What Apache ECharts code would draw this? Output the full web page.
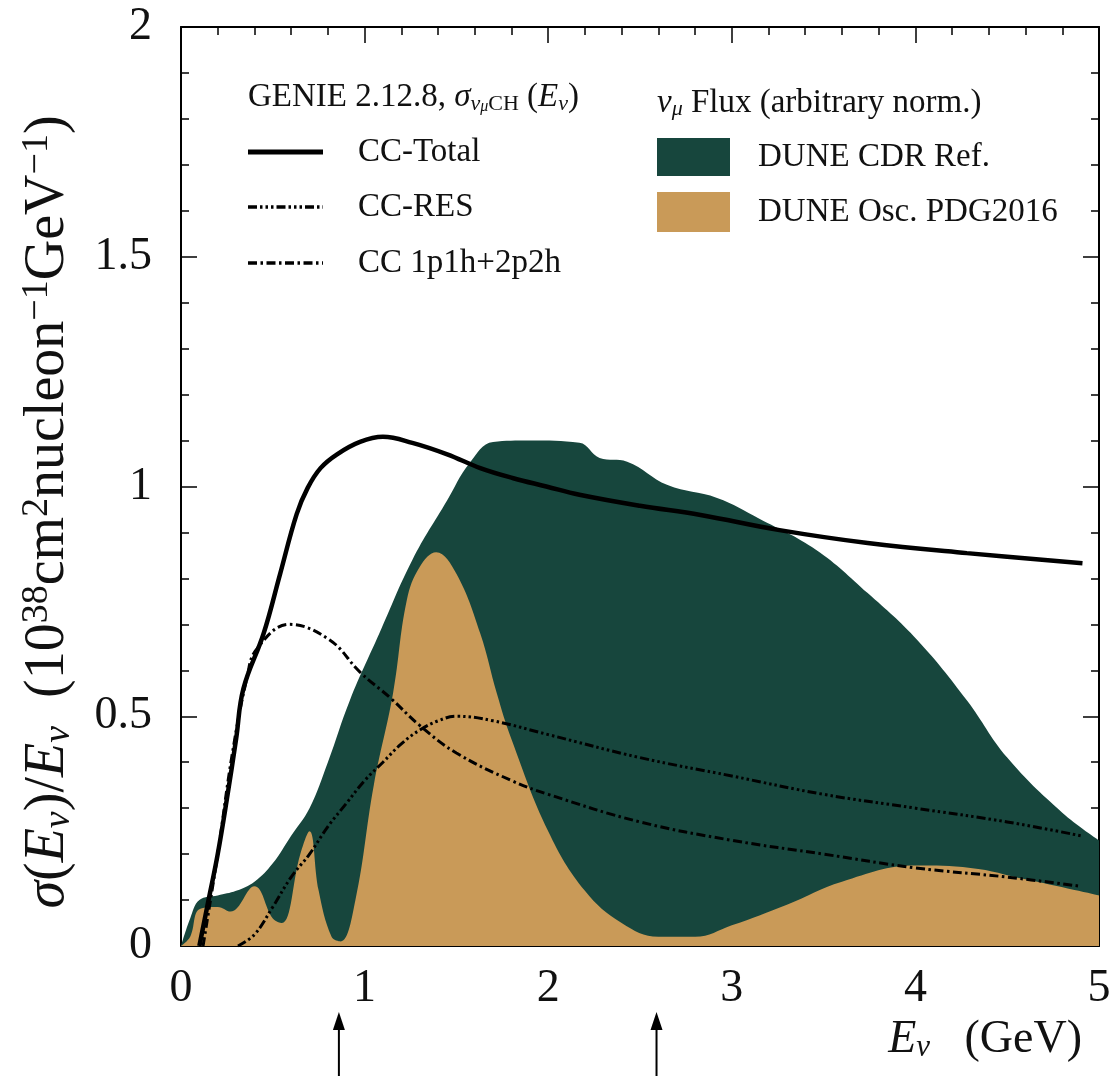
<!DOCTYPE html>
<html>
<head>
<meta charset="utf-8">
<script src="https://cdn.jsdelivr.net/npm/echarts@6/dist/echarts.min.js"></script>
<style>
  html, body { margin: 0; padding: 0; background: #fff; }
  #chart { width: 1114px; height: 1076px; }
</style>
</head>
<body>
<div id="chart"></div>
<script>
// energy grids (GeV) and sigma/E values
const fluxRefE = [0, 0.05, 0.1, 0.2, 0.3, 0.4, 0.5, 0.6, 0.7, 0.8, 0.92, 1.08, 1.26, 1.45, 1.57, 1.7, 1.9, 2.17, 2.28, 2.43, 2.65, 2.92, 3.15, 3.46, 3.74, 4.01, 4.28, 4.5, 4.8, 5.0];
const fluxRefY = [0, 0.06, 0.1, 0.11, 0.12, 0.14, 0.18, 0.24, 0.3, 0.4, 0.535, 0.68, 0.84, 0.97, 1.05, 1.097, 1.1, 1.095, 1.062, 1.054, 1.003, 0.975, 0.93, 0.862, 0.768, 0.666, 0.535, 0.41, 0.29, 0.23];

const fluxOscE = [0, 0.05, 0.1, 0.2, 0.27, 0.4, 0.5, 0.55, 0.65, 0.7, 0.75, 0.82, 0.87, 0.95, 1.05, 1.155, 1.23, 1.3, 1.39, 1.5, 1.63, 1.72, 1.8, 2.0, 2.2, 2.4, 2.6, 2.8, 3.0, 3.3, 3.6, 4.0, 4.3, 4.6, 5.0];
const fluxOscY = [0, 0.02, 0.08, 0.085, 0.075, 0.13, 0.06, 0.05, 0.2, 0.25, 0.12, 0.02, 0.01, 0.1, 0.35, 0.55, 0.753, 0.825, 0.857, 0.81, 0.68, 0.55, 0.45, 0.25, 0.12, 0.05, 0.02, 0.02, 0.045, 0.09, 0.14, 0.175, 0.17, 0.145, 0.11];

const ccTotalE = [0.1, 0.15, 0.2, 0.25, 0.3, 0.34, 0.45, 0.54, 0.63, 0.69, 0.76, 0.85, 0.975, 1.1, 1.26, 1.45, 1.63, 1.81, 1.99, 2.17, 2.5, 2.83, 3.26, 3.74, 4.28, 4.91];
const ccTotalY = [0, 0.1, 0.2, 0.32, 0.45, 0.56, 0.68, 0.81, 0.94, 0.997, 1.04, 1.07, 1.097, 1.108, 1.095, 1.07, 1.04, 1.018, 1.0, 0.982, 0.958, 0.938, 0.905, 0.877, 0.855, 0.833];

const ccResE = [0.31, 0.4, 0.5, 0.6, 0.7, 0.8, 0.9, 1.0, 1.1, 1.2, 1.3, 1.4, 1.5, 1.7, 2.0, 2.5, 3.0, 3.5, 4.0, 4.5, 4.9];
const ccResY = [0, 0.025, 0.085, 0.15, 0.2, 0.26, 0.31, 0.36, 0.4, 0.44, 0.47, 0.49, 0.5, 0.49, 0.46, 0.41, 0.37, 0.33, 0.3, 0.27, 0.24];

const ccQeE = [0.12, 0.2, 0.28, 0.36, 0.41, 0.59, 0.81, 0.975, 1.14, 1.3, 1.5, 1.8, 2.0, 2.5, 3.0, 3.5, 4.0, 4.5, 4.9];
const ccQeY = [0, 0.2, 0.42, 0.585, 0.645, 0.7, 0.666, 0.596, 0.54, 0.48, 0.42, 0.36, 0.33, 0.27, 0.23, 0.2, 0.17, 0.15, 0.13];

const arrowE = [0.86, 2.59];

const zip = (xs, ys) => xs.map((x, i) => [x, ys[i]]);
const serif = '"Liberation Serif", "DejaVu Serif", serif';
const green = '#17463d';
const tan = '#c99a58';

const chart = echarts.init(document.getElementById('chart'));

const baseAxis = {
  min: 0,
  axisLine: { show: true, onZero: false, lineStyle: { color: '#000', width: 2 } },
  axisTick: { show: true, inside: true, length: 16, lineStyle: { color: '#000', width: 1.5 } },
  minorTick: { show: true, splitNumber: 5, length: 8, lineStyle: { color: '#000', width: 1.5 } },
  splitLine: { show: false },
  minorSplitLine: { show: false },
};

function fill(name, data, color) {
  return {
    name, type: 'line', data, smooth: 0.4, symbol: 'none', silent: true,
    lineStyle: { width: 0, color }, itemStyle: { color },
    areaStyle: { color, opacity: 1 },
  };
}
function curve(name, data, width, dash) {
  return {
    name, type: 'line', data, smooth: 0.4, symbol: 'none', silent: true,
    lineStyle: { width, color: '#000', type: dash || 'solid', cap: 'butt' },
    itemStyle: { color: '#000' },
  };
}

chart.setOption({
  animation: false,
  grid: { left: 181, right: 15, top: 27, bottom: 130 },
  xAxis: [
    Object.assign({}, baseAxis, {
      type: 'value', max: 5, interval: 1, position: 'bottom',
      axisLabel: { show: true, color: '#111', fontFamily: serif, fontSize: 46, margin: 20 },
    }),
    Object.assign({}, baseAxis, {
      type: 'value', max: 5, interval: 1, position: 'top',
      axisLabel: { show: false },
    }),
  ],
  yAxis: [
    Object.assign({}, baseAxis, {
      type: 'value', max: 2, interval: 0.5, position: 'left',
      axisLabel: { show: true, color: '#111', fontFamily: serif, fontSize: 46, margin: 29 },
    }),
    Object.assign({}, baseAxis, {
      type: 'value', max: 2, interval: 0.5, position: 'right',
      axisLabel: { show: false },
    }),
  ],
  series: [
    fill('DUNE CDR Ref.', zip(fluxRefE, fluxRefY), green),
    fill('DUNE Osc. PDG2016', zip(fluxOscE, fluxOscY), tan),
    curve('CC-RES', zip(ccResE, ccResY), 3, [9, 3, 2.5, 3, 2.5, 3, 2.5, 3]),
    curve('CC 1p1h+2p2h', zip(ccQeE, ccQeY), 3, [9, 3.5, 2.5, 3.5]),
    curve('CC-Total', zip(ccTotalE, ccTotalY), 4.5),
  ],
});

// legend, axis titles and arrows as graphic text placed around the grid
const lgSize = 33;
function legendLine(y, dash, width) {
  return {
    type: 'line', shape: { x1: 248, y1: y, x2: 323, y2: y },
    style: { stroke: '#000', lineWidth: width, lineDash: dash },
  };
}
function text(x, y, str, size) {
  return {
    type: 'text', x, y,
    style: { text: str, font: size + 'px ' + serif, fill: '#111', verticalAlign: 'middle' },
  };
}

const graphics = [
  {
    type: 'text', x: 248, y: 97,
    style: {
      text: '{t|GENIE 2.12.8, }{it|σ}{sub|ν}{subsub|μ}{subr|CH}{t| (}{it|E}{sub|ν}{t|)}',
      verticalAlign: 'middle',
      rich: {
        t: { font: lgSize + 'px ' + serif, fill: '#111' },
        it: { font: 'italic ' + lgSize + 'px ' + serif, fill: '#111' },
        sub: { font: 'italic 22px ' + serif, fill: '#111', verticalAlign: 'bottom', padding: [12, 0, 0, 0] },
        subr: { font: '22px ' + serif, fill: '#111', verticalAlign: 'bottom', padding: [12, 0, 0, 0] },
        subsub: { font: 'italic 16px ' + serif, fill: '#111', verticalAlign: 'bottom', padding: [20, 0, 0, 0] },
      },
    },
  },
  legendLine(152, null, 5),
  legendLine(207, [9, 3, 2.5, 3, 2.5, 3, 2.5, 3], 3.5),
  legendLine(263, [9, 3.5, 2.5, 3.5], 3.5),
  text(358, 152, 'CC-Total', lgSize),
  text(358, 207, 'CC-RES', lgSize),
  text(358, 263, 'CC 1p1h+2p2h', lgSize),
  {
    type: 'text', x: 657, y: 103,
    style: {
      text: '{it|ν}{sub|μ}{t| Flux (arbitrary norm.)}',
      verticalAlign: 'middle',
      rich: {
        t: { font: lgSize + 'px ' + serif, fill: '#111' },
        it: { font: 'italic ' + lgSize + 'px ' + serif, fill: '#111' },
        sub: { font: 'italic 22px ' + serif, fill: '#111', verticalAlign: 'bottom', padding: [12, 0, 0, 0] },
      },
    },
  },
  { type: 'rect', shape: { x: 657, y: 138, width: 73, height: 38 }, style: { fill: green } },
  { type: 'rect', shape: { x: 657, y: 192, width: 73, height: 40 }, style: { fill: tan } },
  text(758, 157, 'DUNE CDR Ref.', lgSize),
  text(758, 212, 'DUNE Osc. PDG2016', lgSize),
  {
    type: 'text', x: 1082, y: 1040,
    style: {
      text: '{it|E}{sub|ν}{t|   (GeV)}',
      align: 'right', verticalAlign: 'middle',
      rich: {
        t: { font: '46px ' + serif, fill: '#111' },
        it: { font: 'italic 46px ' + serif, fill: '#111' },
        sub: { font: 'italic 31px ' + serif, fill: '#111', verticalAlign: 'bottom', padding: [16, 0, 0, 0] },
      },
    },
  },
  {
    type: 'text', x: 48, y: 512, rotation: Math.PI / 2,
    style: {
      text: '{it|σ}{t|(}{it|E}{sub|ν}{t|)/}{it|E}{sub|ν}{t|  (10}{sup|38}{t|cm}{sup|2}{t|nucleon}{sup|−1}{t|GeV}{sup|−1}{t|)}',
      align: 'center', verticalAlign: 'middle',
      rich: {
        t: { font: '56px ' + serif, fill: '#111' },
        it: { font: 'italic 56px ' + serif, fill: '#111' },
        sub: { font: 'italic 38px ' + serif, fill: '#111', verticalAlign: 'bottom', padding: [22, 0, 0, 0] },
        sup: { font: '38px ' + serif, fill: '#111', verticalAlign: 'top', padding: [0, 0, 22, 0] },
      },
    },
  },
];

arrowE.forEach((e) => {
  const px = chart.convertToPixel({ xAxisIndex: 0 }, e);
  graphics.push({ type: 'line', shape: { x1: px, y1: 1076, x2: px, y2: 1020 }, style: { stroke: '#000', lineWidth: 2 } });
  graphics.push({ type: 'polygon', shape: { points: [[px, 1012], [px - 6, 1030], [px + 6, 1030]] }, style: { fill: '#000' } });
});

chart.setOption({ graphic: graphics });
</script>
</body>
</html>
